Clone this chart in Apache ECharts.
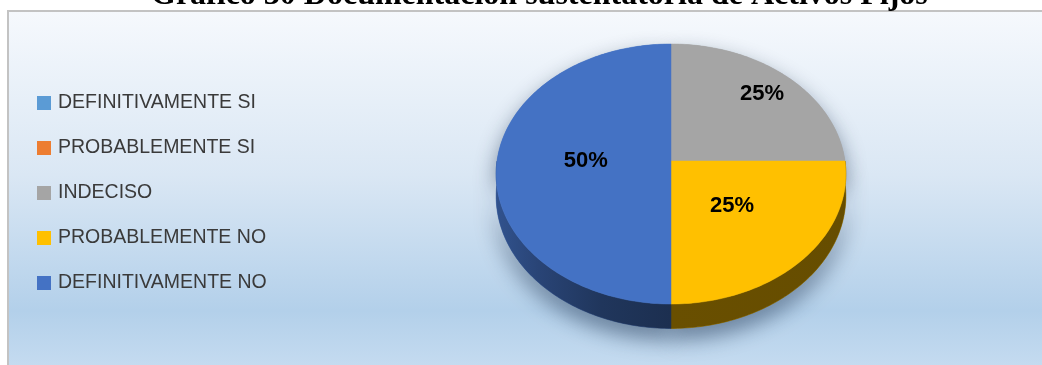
<!DOCTYPE html>
<html>
<head>
<meta charset="utf-8">
<script src="https://cdn.jsdelivr.net/npm/echarts@6/dist/echarts.min.js"></script>
<style>
  html, body { margin: 0; padding: 0; background: #fff; }
  #chart { width: 1042px; height: 365px; }
</style>
</head>
<body>
<div id="chart"></div>
<script>
    // datos
    var titulo = 'Gráfico 30 Documentación sustentatoria de Activos Fijos';
    var categorias = ['DEFINITIVAMENTE SI', 'PROBABLEMENTE SI', 'INDECISO', 'PROBABLEMENTE NO', 'DEFINITIVAMENTE NO'];
    var porcentajes = [0, 0, 25, 25, 50];

    // estilo
    var colores = ['#5B9BD5', '#ED7D31', '#A5A5A5', '#FFC000', '#4472C4'];
    var radioEtiqueta = [0.6, 0.6, 0.78, 0.48, 0.49];

    // geometria del pastel 3D (centro, radios, perspectiva, grosor)
    var cx = 671, cy = 161, rx = 174, ry = 128.7, persp = 0.1, grosor = 22;

    var total = porcentajes.reduce(function (a, b) { return a + b; }, 0);

    function punto(ang, k, dy) {
        var X = Math.sin(ang) * k, Z = Math.cos(ang) * k;
        var s = 1 / (1 + persp * Z);
        return [cx + rx * X * s, cy - ry * Z * s + dy * s];
    }

    function arco(a0, a1, dy) {
        var pts = [];
        var n = Math.max(2, Math.ceil((a1 - a0) / (Math.PI / 180)));
        for (var j = 0; j <= n; j++) {
            pts.push(punto(a0 + (a1 - a0) * j / n, 1, dy));
        }
        return pts;
    }

    function oscurecer(hex, f) {
        var r = parseInt(hex.slice(1, 3), 16), g = parseInt(hex.slice(3, 5), 16), b = parseInt(hex.slice(5, 7), 16);
        return 'rgb(' + Math.round(r * f) + ',' + Math.round(g * f) + ',' + Math.round(b * f) + ')';
    }

    // sombreado del lateral, de izquierda a derecha
    function degradadoLateral(color) {
        var paradas = [[0, 0.72], [0.12, 0.6], [0.3, 0.47], [0.5, 0.41], [1, 0.4]];
        return {
            type: 'linear', x: cx - rx, y: 0, x2: cx + rx, y2: 0, global: true,
            colorStops: paradas.map(function (p) { return { offset: p[0], color: oscurecer(color, p[1]) }; })
        };
    }

    function dibujarPorcion(i) {
        return function (params, api) {
            var valor = api.value(0);
            if (!valor) return { type: 'group', children: [] };
            var previo = 0;
            for (var j = 0; j < i; j++) previo += porcentajes[j];
            var a0 = previo / total * 2 * Math.PI;
            var a1 = a0 + valor / total * 2 * Math.PI;
            var hijos = [];

            var cara = [punto(0, 0, 0)].concat(arco(a0, a1, 0));

            // parte frontal visible (entre 90 y 270 grados)
            var f0 = Math.max(a0, Math.PI / 2), f1 = Math.min(a1, 3 * Math.PI / 2);
            var lateral = null;
            if (f1 > f0) {
                lateral = arco(f0, f1, 0).concat(arco(f0, f1, grosor).reverse());
            }

            // sombra
            hijos.push({
                type: 'polygon', z2: -1,
                shape: { points: cara.concat(lateral ? arco(f0, f1, grosor).reverse() : []) },
                style: { fill: colores[i], shadowBlur: 22, shadowOffsetY: 10, shadowColor: 'rgba(20,40,70,0.55)' }
            });
            if (lateral) {
                hijos.push({
                    type: 'polygon', z2: 0,
                    shape: { points: lateral },
                    style: { fill: degradadoLateral(colores[i]), stroke: degradadoLateral(colores[i]), lineWidth: 0.5 }
                });
            }
            hijos.push({
                type: 'polygon', z2: 1,
                shape: { points: cara },
                style: { fill: colores[i], stroke: colores[i], lineWidth: 0.5 }
            });

            var medio = (a0 + a1) / 2;
            var pe = punto(medio, radioEtiqueta[i], 0);
            hijos.push({
                type: 'text', z2: 2,
                style: {
                    text: valor + '%', x: pe[0], y: pe[1],
                    align: 'center', verticalAlign: 'middle',
                    font: 'bold 22px "Liberation Sans"', fill: '#000'
                }
            });
            return { type: 'group', children: hijos };
        };
    }

    var series = categorias.map(function (nombre, i) {
        return {
            name: nombre,
            type: 'custom',
            coordinateSystem: 'none',
            itemStyle: { color: colores[i] },
            data: [[porcentajes[i]]],
            renderItem: dibujarPorcion(i)
        };
    });

    var chart = echarts.init(document.getElementById('chart'), null, { renderer: 'canvas' });
    var option = {
        animation: false,
        title: {
            text: titulo,
            left: 151, top: -20, padding: 0,
            textStyle: { fontFamily: '"Liberation Serif"', fontWeight: 'bold', fontSize: 32, color: '#000' }
        },
        legend: {
            orient: 'vertical',
            left: 37, top: 93, padding: 0,
            itemWidth: 14, itemHeight: 14, itemGap: 25,
            icon: 'rect',
            selectedMode: false,
            textStyle: { fontFamily: '"Liberation Sans"', fontSize: 19.5, color: '#3a3a3a', padding: [0, 0, 0, 2] },
            data: categorias
        },
        graphic: [{
            type: 'rect', z: -10,
            shape: { x: 8, y: 11, width: 1100, height: 365 },
            style: {
                fill: {
                    type: 'linear', x: 0, y: 0, x2: 0, y2: 1,
                    colorStops: [
                        { offset: 0, color: '#f6f9fd' },
                        { offset: 0.45, color: '#dae7f4' },
                        { offset: 0.82, color: '#b3d0ea' },
                        { offset: 1, color: '#c8ddf1' }
                    ]
                },
                stroke: '#c3c3c3', lineWidth: 2
            }
        }],
        series: series
    };
    chart.setOption(option, true);
    window.addEventListener('resize', function () {
        chart.resize();
    });
</script>
</body>
</html>
